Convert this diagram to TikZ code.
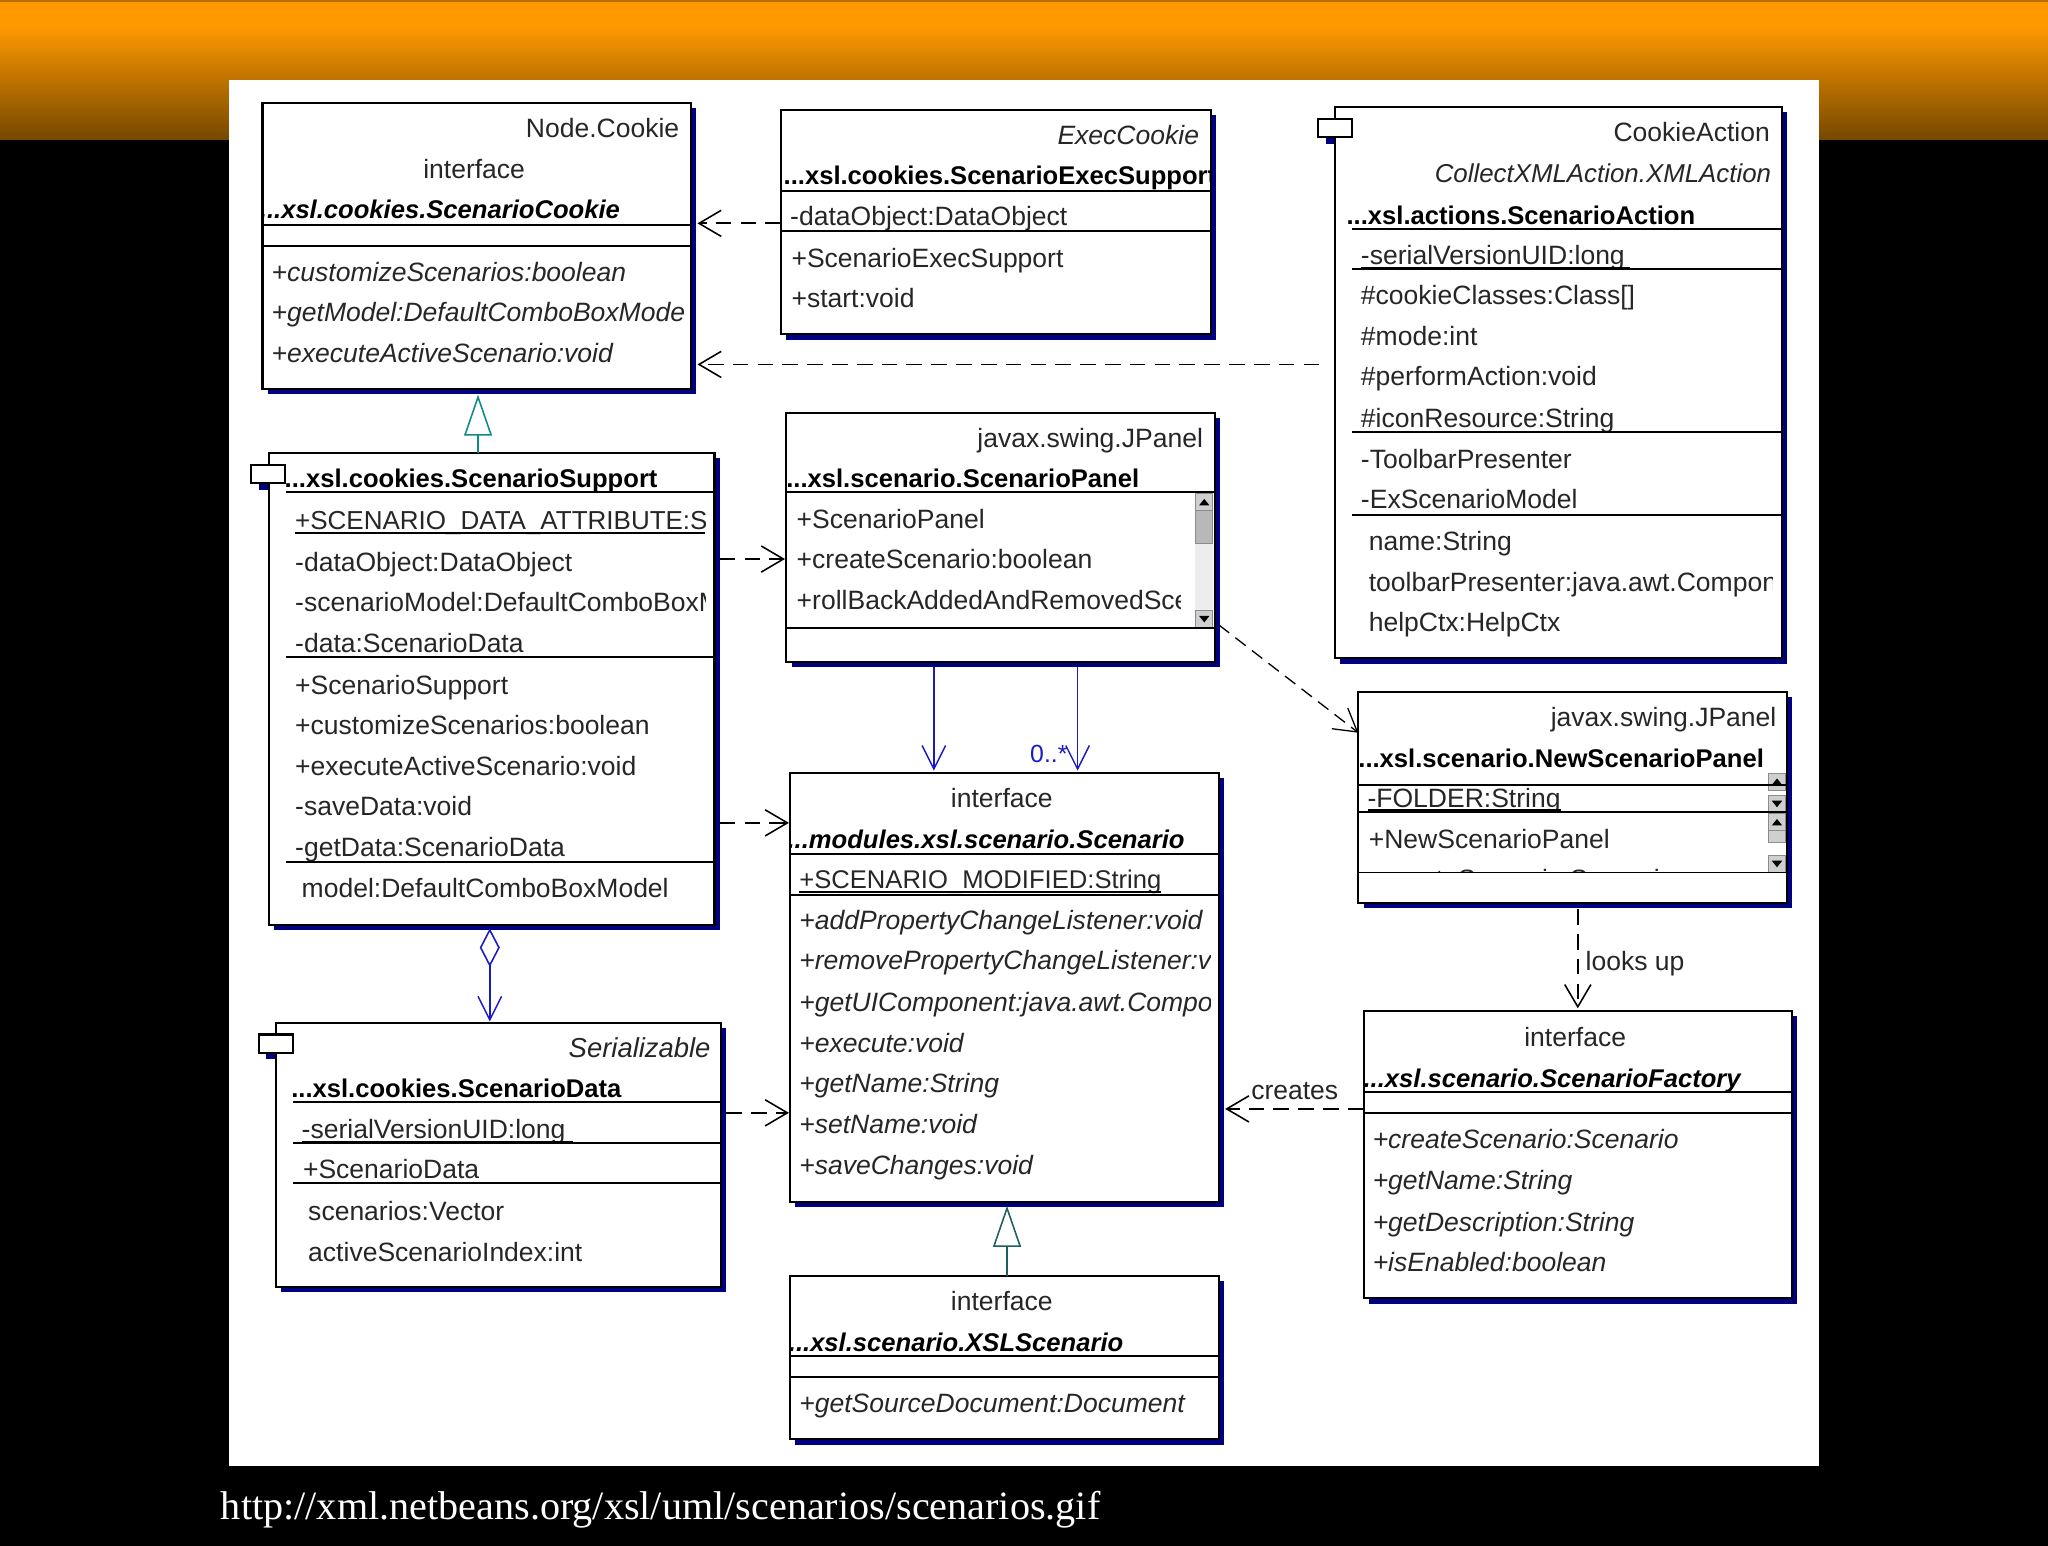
\documentclass[tikz,border=0pt]{standalone}
\usepackage{fontspec}
\setmainfont{Liberation Sans}
\newfontfamily\urlfont{Liberation Serif}
\usetikzlibrary{arrows.meta,calc}
\definecolor{shadowblue}{HTML}{000080}
\definecolor{assocblue}{HTML}{1A1AC8}
\definecolor{tealline}{HTML}{0E8A8A}
\definecolor{darkteal}{HTML}{1F5F5F}
\definecolor{orangetop}{HTML}{FF9900}
\definecolor{orangelow}{HTML}{754800}
\definecolor{orangeedge}{HTML}{B86E00}
\definecolor{sbgray}{HTML}{CFCFCF}
\definecolor{sbedge}{HTML}{8C8C8C}
\newcount\tcnt
\newcommand{\rowfont}{\fontsize{20.3}{24}\selectfont}
\newcommand{\boldfont}{\fontsize{19.6}{24}\selectfont\bfseries}
\tikzset{x=1pt,y=-1pt,
  umlbox/.style={draw=black,line width=1.6pt,fill=white,anchor=north west,inner sep=0pt,outer sep=0pt},
  umltab/.style={draw=black,line width=1.6pt,fill=white,anchor=north west,inner sep=0pt,outer sep=0pt,minimum width=26pt,minimum height=14pt},
  rowtxt/.style={inner sep=0pt,outer sep=0pt,font=\rowfont,text=black!85},
  ital/.style={font=\rowfont\itshape},
  bld/.style={font=\boldfont,text=black},
  bldit/.style={font=\boldfont\itshape,text=black},
  dep/.style={line width=1.4pt,dash pattern=on 12pt off 7pt,-{Straight Barb[length=17pt,width=20pt,line width=1.2pt]}},
  deppt/.style={line width=1pt,dash pattern=on 10pt off 6pt,-{Straight Barb[length=17pt,width=20pt,line width=1pt]}},
  assoc/.style={line width=1.2pt,draw=assocblue,-{Straight Barb[length=18pt,width=18pt,line width=1.1pt]}},
  divline/.style={line width=1.5pt,black},
}
\newcommand{\umlclass}[5]{%
  \fill[shadowblue] (#2+4,#3+4) rectangle (#4+4,#5+4);
  \node[umlbox,minimum width=#4-#2,minimum height=#5-#3] (#1) at (#2,#3) {};}
\newcommand{\umltabbed}[7]{%
  \fill[shadowblue] (#6+6,#7+4) rectangle (#6+30,#7+19);
  \umlclass{#1}{#2}{#3}{#4}{#5}%
  \node[umltab] (#1tab) at (#6,#7) {};}
\newcommand{\lrow}[4][]{\global\advance\tcnt by 1
  \node[rowtxt,anchor=base west,#1] (t\the\tcnt) at (#2,#3+7.5) {#4};}
\newcommand{\rrow}[4][]{\global\advance\tcnt by 1
  \node[rowtxt,anchor=base east,#1] (t\the\tcnt) at (#2,#3+7.5) {#4};}
\newcommand{\crow}[4][]{\global\advance\tcnt by 1
  \node[rowtxt,anchor=base,#1] (t\the\tcnt) at (#2,#3+7.5) {#4};}
\newcommand{\ulin}[3]{\draw[line width=1.5pt,black] (#1,#3) -- (#2,#3);}
\newcommand{\dv}[3]{\draw[divline] (#1,#3) -- (#2,#3);}
\newcommand{\sbbtn}[3]{%
  \fill[sbgray,draw=sbedge,line width=.8pt] (#1,#2) rectangle (#1+13,#2+13);
  \fill[black] (#1+2.5,#2+6.5+2.5*#3) -- (#1+10.5,#2+6.5+2.5*#3) -- (#1+6.5,#2+6.5-2.5*#3) -- cycle;}
\begin{document}
\begin{tikzpicture}
\useasboundingbox (0,0) rectangle (1568,1183.6);
\fill[black] (0,0) rectangle (1568,1183.6);
\fill[orangetop] (0,0) rectangle (1568,20);
\shade[top color=orangetop,bottom color=orangelow] (0,20) rectangle (1568,107);
\fill[orangeedge] (0,0) rectangle (1568,1.2);
\fill[white] (175,61) rectangle (1393,1122.5);

% ---- ScenarioCookie
\umlclass{cookie}{201}{79}{529}{298}
\begin{scope}
\clip (201,79) rectangle (523,298);
\rrow{520}{98}{Node.Cookie}
\crow{363}{129}{interface}
\lrow[bldit]{199}{160}{...xsl.cookies.ScenarioCookie}
\lrow[ital]{208}{208}{+customizeScenarios:boolean}
\lrow[ital]{208}{239}{+getModel:DefaultComboBoxModel}
\lrow[ital]{208}{270}{+executeActiveScenario:void}
\end{scope}
\dv{201}{529}{172}\dv{201}{529}{188}

% ---- ExecSupport
\umlclass{exec}{598}{84}{927}{256}
\begin{scope}
\clip (598,84) rectangle (927,256);
\rrow[ital]{918}{103}{ExecCookie}
\lrow[bld]{600}{134}{...xsl.cookies.ScenarioExecSupport}
\lrow{605}{165}{-dataObject:DataObject}
\lrow{606}{197}{+ScenarioExecSupport}
\lrow{606}{228}{+start:void}
\end{scope}
\dv{598}{927}{146}\dv{598}{927}{177}

% ---- ScenarioAction
\umltabbed{action}{1022}{82}{1364}{504}{1009}{91}
\begin{scope}
\clip (1022,82) rectangle (1357,504);
\rrow{1355}{101}{CookieAction}
\rrow[ital,font=\fontsize{19.8}{24}\selectfont\itshape]{1356}{132}{CollectXMLAction.XMLAction}
\lrow[bld]{1031}{164}{...xsl.actions.ScenarioAction}
\lrow{1042}{195}{-serialVersionUID:long}
\lrow{1042}{226}{\#cookieClasses:Class[]}
\lrow{1042}{257}{\#mode:int}
\lrow{1042}{288}{\#performAction:void}
\lrow{1042}{320}{\#iconResource:String}
\lrow{1042}{351}{-ToolbarPresenter}
\lrow{1042}{382}{-ExScenarioModel}
\lrow{1048}{414}{name:String}
\lrow{1048}{445}{toolbarPresenter:java.awt.Component}
\lrow{1048}{476}{helpCtx:HelpCtx}
\end{scope}
\ulin{1042}{1248}{205}
\dv{1035}{1364}{175}\dv{1035}{1364}{206}\dv{1035}{1364}{331}\dv{1035}{1364}{394}

% ---- ScenarioSupport
\umltabbed{support}{206}{347}{547}{708}{192}{356}
\begin{scope}
\clip (206,347) rectangle (540,708);
\lrow[bld]{218}{366}{...xsl.cookies.ScenarioSupport}
\lrow[font=\fontsize{19.9}{24}\selectfont]{226}{398}{+SCENARIO\_DATA\_ATTRIBUTE:String}
\lrow{226}{430}{-dataObject:DataObject}
\lrow{226}{461}{-scenarioModel:DefaultComboBoxModel}
\lrow{226}{492}{-data:ScenarioData}
\lrow{226}{524}{+ScenarioSupport}
\lrow{226}{555}{+customizeScenarios:boolean}
\lrow{226}{586}{+executeActiveScenario:void}
\lrow{226}{617}{-saveData:void}
\lrow{226}{648}{-getData:ScenarioData}
\lrow{231}{680}{model:DefaultComboBoxModel}
\end{scope}
\ulin{226}{540}{408}
\dv{219}{547}{377}\dv{219}{547}{503}\dv{219}{547}{660}

% ---- ScenarioPanel
\umlclass{panel}{602}{316}{930}{507}
\begin{scope}
\clip (602,316) rectangle (904,507);
\lrow{610}{397}{+ScenarioPanel}
\lrow{610}{428}{+createScenario:boolean}
\lrow{610}{459}{+rollBackAddedAndRemovedScenarios}
\end{scope}
\rrow{921}{335}{javax.swing.JPanel}
\lrow[bld]{602}{366}{...xsl.scenario.ScenarioPanel}
\fill[black!7] (915,378) rectangle (929,481);
\sbbtn{915.5}{378}{1}
\fill[black!28,draw=sbedge,line width=.8pt] (915.5,391) rectangle (928.5,416);
\sbbtn{915.5}{467.5}{-1}
\dv{602}{930}{377}\dv{602}{930}{481}

% ---- Scenario
\umlclass{scenario}{605}{592}{933}{920}
\begin{scope}
\clip (605,592) rectangle (927,920);
\crow{767}{611}{interface}
\lrow[bldit]{603}{642}{...modules.xsl.scenario.Scenario}
\lrow[font=\fontsize{19.6}{24}\selectfont]{612}{673}{+SCENARIO\_MODIFIED:String}
\lrow[ital]{612}{704}{+addPropertyChangeListener:void}
\lrow[ital]{612}{735}{+removePropertyChangeListener:void}
\lrow[ital]{612}{767}{+getUIComponent:java.awt.Component}
\lrow[ital]{612}{798}{+execute:void}
\lrow[ital]{612}{829}{+getName:String}
\lrow[ital]{612}{860}{+setName:void}
\lrow[ital]{612}{892}{+saveChanges:void}
\end{scope}
\ulin{612}{889}{683}
\dv{605}{933}{654}\dv{605}{933}{685}

% ---- NewScenarioPanel
\umlclass{newpanel}{1040}{530}{1368}{691}
\begin{scope}
\clip (1040,530) rectangle (1368,668);
\rrow{1360}{549}{javax.swing.JPanel}
\lrow[bld]{1040}{580}{...xsl.scenario.NewScenarioPanel}
\lrow{1047}{611}{-FOLDER:String}
\lrow{1048}{642}{+NewScenarioPanel}
\lrow{1048}{673}{+createScenario:Scenario}
\end{scope}
\ulin{1047}{1195}{620}
\sbbtn{1354}{592}{1}\sbbtn{1354}{609}{-1}
\sbbtn{1354}{623}{1}\fill[sbgray,draw=sbedge,line width=.8pt] (1354,636) rectangle (1367,645);
\sbbtn{1354}{655}{-1}
\dv{1040}{1368}{601}\dv{1040}{1368}{622}\dv{1040}{1368}{668}

% ---- ScenarioFactory
\umlclass{factory}{1044}{774}{1372}{994}
\crow{1206}{794}{interface}
\lrow[bldit]{1044}{825}{...xsl.scenario.ScenarioFactory}
\lrow[ital]{1051}{872}{+createScenario:Scenario}
\lrow[ital]{1051}{903}{+getName:String}
\lrow[ital]{1051}{935}{+getDescription:String}
\lrow[ital]{1051}{966}{+isEnabled:boolean}
\dv{1044}{1372}{836}\dv{1044}{1372}{852}

% ---- ScenarioData
\umltabbed{data}{211}{783}{552}{985}{198}{792}
\rrow[ital,font=\fontsize{21}{24}\selectfont\itshape]{544}{802}{Serializable}
\lrow[bld]{223}{833}{...xsl.cookies.ScenarioData}
\lrow{231}{864}{-serialVersionUID:long}
\lrow{232}{895}{+ScenarioData}
\lrow{236}{927}{scenarios:Vector}
\lrow{236}{958}{activeScenarioIndex:int}
\ulin{231}{439}{874}
\dv{224}{552}{844}\dv{224}{552}{875}\dv{224}{552}{906}

% ---- XSLScenario
\umlclass{xsl}{605}{977}{933}{1102}
\crow{767}{996}{interface}
\lrow[bldit]{604}{1027}{...xsl.scenario.XSLScenario}
\lrow[ital]{612}{1074}{+getSourceDocument:Document}
\dv{605}{933}{1038}\dv{605}{933}{1054}

% ---- connectors
\draw[dep,shorten >=5pt] (exec.west |- 0,171) -- (cookie.east |- 0,171);
\draw[dep,shorten >=5pt,shorten <=12pt] (action.west |- 0,279) -- (cookie.east |- 0,279);
\draw[dep,shorten <=4pt,shorten >=1pt] (support.east |- 0,428) -- (panel.west |- 0,428);
\draw[dep,shorten <=4pt,shorten >=1pt] (support.east |- 0,630) -- (scenario.west |- 0,630);
\draw[dep,shorten <=4pt,shorten >=1pt] (data.east |- 0,852) -- (scenario.west |- 0,852);
\draw[dep,shorten >=5pt] (factory.west |- 0,849) -- (scenario.east |- 0,849);
\draw[assoc,shorten <=4pt,shorten >=2pt] (715,0 |- panel.south) -- (715,0 |- scenario.north);
\draw[assoc,shorten <=4pt,shorten >=2pt] (825,0 |- panel.south) -- (825,0 |- scenario.north);
\node[font=\fontsize{19}{24}\selectfont,text=assocblue,inner sep=0pt] (mult) at (803,577) {0..*};
\draw[deppt,shorten <=4pt] (panel.east |- 0,476) -- (newpanel.west |- 0,561);
\draw[dep,shorten <=5pt,shorten >=2pt] (1208,0 |- newpanel.south) -- (1208,0 |- factory.north);
\node[rowtxt,anchor=base west] (looksup) at (1214,743) {looks up};
\node[rowtxt,anchor=base west] (creates) at (958,842) {creates};
% realization
\draw[line width=1pt,tealline] (366,333) -- (366,0 |- support.north);
\draw[line width=1.2pt,tealline,fill=white] (366,304) -- (376,333) -- (356,333) -- cycle;
\draw[line width=1pt,darkteal] (771,954) -- (771,0 |- xsl.north);
\draw[line width=1.2pt,darkteal,fill=white] (771,925) -- (781,954) -- (761,954) -- cycle;
% aggregation
\draw[assoc,shorten >=1pt] (375,739) -- (375,0 |- data.north);
\draw[line width=1.2pt,assocblue,fill=white] (375,712) -- (382,725.5) -- (375,739) -- (368,725.5) -- cycle;

\node[anchor=base west,inner sep=0pt,text=white,font=\fontsize{30.75}{36}\selectfont\urlfont] (url) at (169,1163.5) {http://xml.netbeans.org/xsl/uml/scenarios/scenarios.gif};
\end{tikzpicture}
\end{document}
